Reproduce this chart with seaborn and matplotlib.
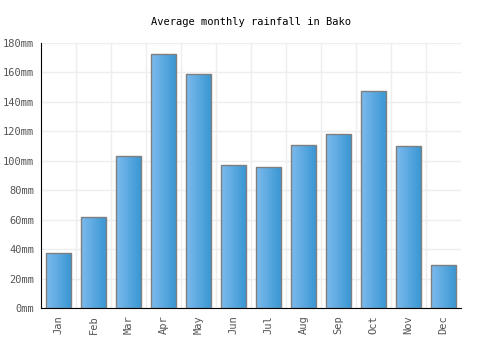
import numpy as np
import pandas as pd
import matplotlib
matplotlib.use('Agg')
import matplotlib.pyplot as plt
import seaborn as sns
from matplotlib.colors import LinearSegmentedColormap

months = ['Jan', 'Feb', 'Mar', 'Apr', 'May', 'Jun', 'Jul', 'Aug', 'Sep', 'Oct', 'Nov', 'Dec']
rainfall = [37.4, 61.8, 103, 172.5, 159, 97, 95.8, 110.5, 118.5, 147.5, 110, 29.2]
y_ticks = [0, 20, 40, 60, 80, 100, 120, 140, 160, 180]

df = pd.DataFrame({'month': months, 'rain': rainfall})

sns.set_style('white')
plt.rcParams['font.family'] = ['DejaVu Sans Mono']

fig = plt.figure(figsize=(5, 3.5), dpi=100)
ax = fig.add_axes([0.082, 0.12, 0.84, 0.757])

sns.barplot(data=df, x='month', y='rain', ax=ax, color='#4a9fdc', width=0.7,
            edgecolor='#7f7f7f', linewidth=1, saturation=1, zorder=2)

# gradient fill for each bar
cmap = LinearSegmentedColormap.from_list('bar', ['#7dbbee', '#3a97d3'])
grad = np.linspace(0, 1, 64).reshape(1, -1)
for p in ax.patches:
    x0, y0 = p.get_x(), p.get_y()
    w, h = p.get_width(), p.get_height()
    im = ax.imshow(grad, extent=[x0, x0 + w, y0, y0 + h], cmap=cmap,
                   aspect='auto', zorder=2.5)
    im.set_clip_path(p)
    p.set_facecolor('none')
    p.set_zorder(3)

ax.set_xlim(-0.5, len(months) - 0.5)
ax.set_ylim(0, 180)
ax.set_yticks(y_ticks)
ax.set_yticklabels([f'{v}mm' for v in y_ticks])
ax.set_xticks(range(len(months)))
ax.set_xticklabels(months, rotation=90)
ax.set_xticks(np.arange(0.5, len(months) - 0.5, 1), minor=True)
ax.set_xlabel('')
ax.set_ylabel('')

ax.grid(axis='y', color='#eeeeee', linewidth=1, zorder=0)
ax.grid(axis='x', which='minor', color='#eeeeee', linewidth=1, zorder=0)
ax.set_axisbelow(True)
for s in ['top', 'right']:
    ax.spines[s].set_visible(False)
ax.spines['left'].set_color('black')
ax.spines['bottom'].set_color('black')
ax.tick_params(axis='both', which='both', length=0, labelsize=7.5, colors='#555555', pad=5)
ax.tick_params(axis='x', which='minor', length=0)

ax.set_title('Average monthly rainfall in Bako', fontsize=7.5, pad=13, color='black')

fig.savefig('out.png', dpi=100)
